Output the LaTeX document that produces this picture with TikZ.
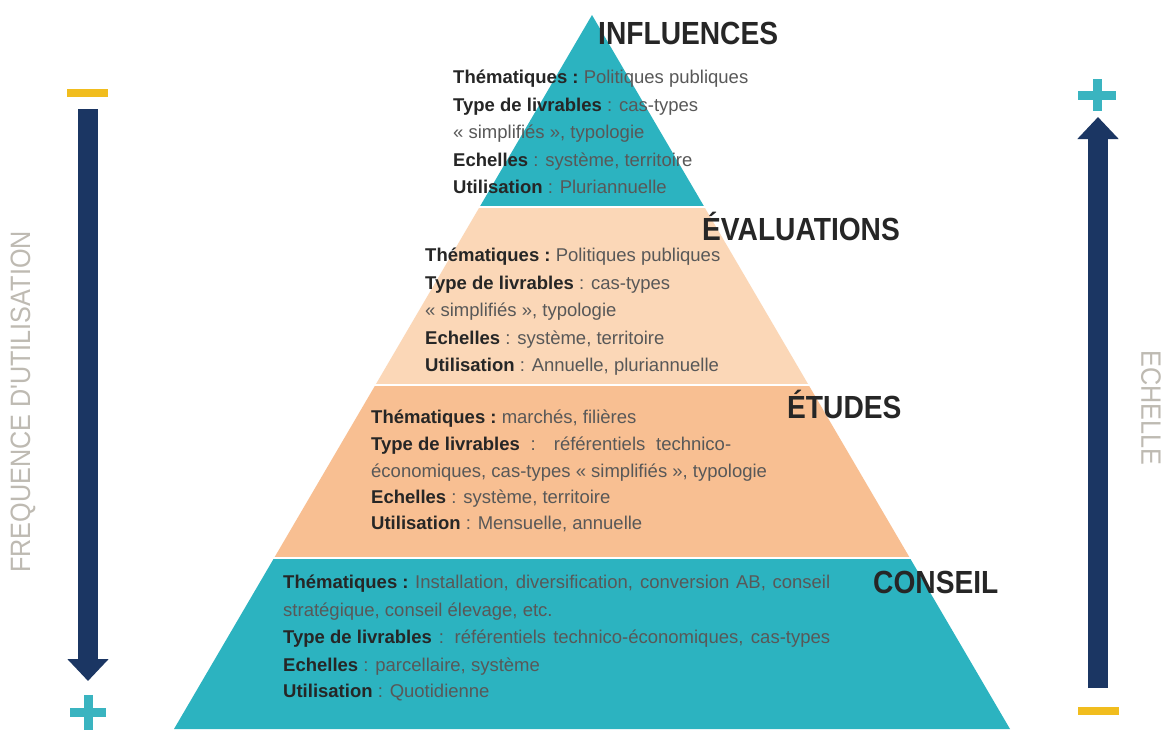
\documentclass[tikz,border=0pt]{standalone}
\usepackage{fontspec}
\setmainfont{Liberation Sans}
\newfontfamily\pyrcond[FakeStretch=0.88]{Liberation Sans}
\newfontfamily\pyrside[FakeStretch=0.9]{Liberation Sans}
\usetikzlibrary{arrows.meta}
\definecolor{pyrteal}{RGB}{44,179,192}
\definecolor{pyreval}{RGB}{251,215,183}
\definecolor{pyretud}{RGB}{248,191,146}
\definecolor{pyrnavy}{RGB}{27,54,99}
\definecolor{pyryell}{RGB}{241,189,30}
\definecolor{pyrplus}{RGB}{58,180,192}
\definecolor{pyrgrey}{RGB}{190,186,178}
\definecolor{txtdark}{RGB}{38,38,38}
\definecolor{txtreg}{RGB}{88,88,88}
\newcommand\pyrkw[1]{\mbox{\bfseries\color{txtdark}#1}}
\newcommand\pyrbody{\fontsize{18.5}{20}\selectfont}
\tikzset{
  ttl/.style={anchor=base west, inner sep=0pt, text=txtdark, font=\pyrcond\bfseries\fontsize{32}{36}\selectfont},
  ln/.style={anchor=base west, inner sep=0pt, text=txtreg, font=\pyrbody},
  side/.style={inner sep=0pt, text=pyrgrey, font=\pyrside\fontsize{28}{30}\selectfont},
  bigarrow/.style={draw=pyrnavy, line width=20pt, -{Triangle[width=40pt,length=22pt]}},
  gap/.style={draw=white, line width=2.5pt}
}
\begin{document}
\begin{tikzpicture}[x=1pt,y=-1pt]
\useasboundingbox (0,0) rectangle (1165,729);
\fill[white] (0,0) rectangle (1165,729);
% pyramid bands
\fill[pyrteal] (592,15) -- (704.4,207) -- (479.6,207) -- cycle;
\fill[pyreval] (479.6,207) -- (704.4,207) -- (808.6,385) -- (375.4,385) -- cycle;
\fill[pyretud] (375.4,385) -- (808.6,385) -- (909.9,558) -- (274.1,558) -- cycle;
\fill[pyrteal] (274.1,558) -- (909.9,558) -- (1010,729) -- (174,729) -- cycle;
\draw[gap] (460,207) -- (730,207);
\draw[gap] (360,385) -- (825,385);
\draw[gap] (255,558) -- (930,558);
% titles
\node[ttl] (tinf) at (598,44) {INFLUENCES};
\node[ttl] (teva) at (702,240) {ÉVALUATIONS};
\node[ttl] (tetu) at (787,418) {ÉTUDES};
\node[ttl] (tcon) at (873,593) {CONSEIL};
% influences text
\node[ln] (i1) at (453,83) {\pyrkw{Thématiques :} Politiques publiques};
\node[ln] (i2) at (453,111) {\pyrkw{Type de livrables} : cas-types};
\node[ln] (i3) at (453,138) {« simplifiés », typologie};
\node[ln] (i4) at (453,166) {\pyrkw{Echelles} : système, territoire};
\node[ln] (i5) at (453,193) {\pyrkw{Utilisation} : Pluriannuelle};
% evaluations text
\node[ln] (e1) at (425,261) {\pyrkw{Thématiques :} Politiques publiques};
\node[ln] (e2) at (425,289) {\pyrkw{Type de livrables} : cas-types};
\node[ln] (e3) at (425,316) {« simplifiés », typologie};
\node[ln] (e4) at (425,344) {\pyrkw{Echelles} : système, territoire};
\node[ln] (e5) at (425,371) {\pyrkw{Utilisation} : Annuelle, pluriannuelle};
% etudes text
\node[ln] (s1) at (371,423) {\pyrkw{Thématiques :} marchés, filières};
\node[ln] (s2) at (371,450) {\makebox[360pt][s]{\pyrkw{Type de livrables} : référentiels technico-}};
\node[ln] (s3) at (371,477) {économiques, cas-types « simplifiés », typologie};
\node[ln] (s4) at (371,503) {\pyrkw{Echelles} : système, territoire};
\node[ln] (s5) at (371,529) {\pyrkw{Utilisation} : Mensuelle, annuelle};
% conseil text
\node[ln] (c1) at (283,588) {\makebox[547pt][s]{\pyrkw{Thématiques :} Installation, diversification, conversion AB, conseil}};
\node[ln] (c2) at (283,616) {stratégique, conseil élevage, etc.};
\node[ln] (c3) at (283,643) {\makebox[547pt][s]{\pyrkw{Type de livrables} : référentiels technico-économiques, cas-types}};
\node[ln] (c4) at (283,671) {\pyrkw{Echelles} : parcellaire, système};
\node[ln] (c5) at (283,697) {\pyrkw{Utilisation} : Quotidienne};
% left scale
\coordinate (lstart) at (88,109);
\coordinate (lend) at (88,681);
\draw[bigarrow] (lstart) -- (lend);
\fill[pyryell] (67,89) rectangle (108,97);
\fill[pyrplus] (70,708) rectangle (106,717);
\fill[pyrplus] (83.5,695) rectangle (92.5,730);
\node[side, rotate=90] (freq) at (23,402) {FREQUENCE D'UTILISATION};
% right scale
\coordinate (rstart) at (1098,688);
\coordinate (rend) at (1098,117);
\draw[bigarrow] (rstart) -- (rend);
\fill[pyryell] (1078,707) rectangle (1119,715);
\fill[pyrplus] (1078,90.5) rectangle (1116,99.5);
\fill[pyrplus] (1092.5,79) rectangle (1101.5,111);
\node[side, rotate=-90] (ech) at (1151,408) {ECHELLE};
\end{tikzpicture}
\end{document}
